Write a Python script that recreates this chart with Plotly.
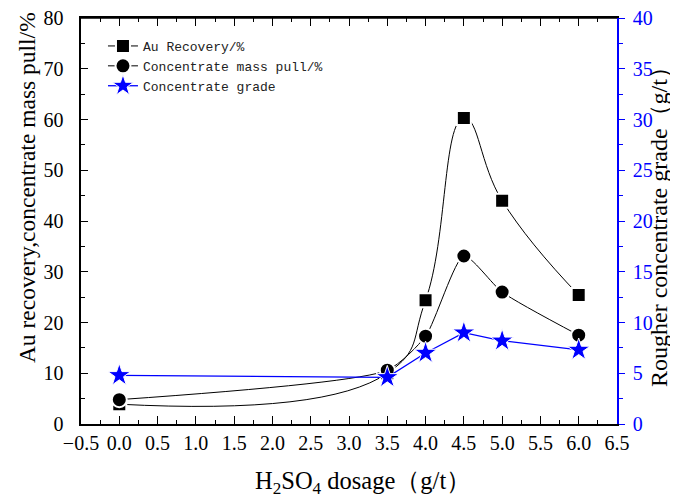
import plotly.graph_objects as go

x = [0.0, 3.5, 4.0, 4.5, 5.0, 6.0]
au_recovery = [3.9, 10.0, 24.4, 60.3, 44.0, 25.4]
mass_pull = [4.8, 10.6, 17.3, 33.1, 26.0, 17.5]
grade = [4.8, 4.6, 7.0, 9.0, 8.2, 7.3]

x_ticks = [-0.5, 0.0, 0.5, 1.0, 1.5, 2.0, 2.5, 3.0, 3.5, 4.0, 4.5, 5.0, 5.5, 6.0, 6.5]

x_title = "H<sub>2</sub>SO<sub>4</sub> dosage（g/t）"
y_title = "Au recovery,concentrate mass pull/%"
y2_title = "Rougher concentrate grade（g/t）"

serif = "Liberation Serif"
mono = "Liberation Mono"

fig = go.Figure()
fig.add_trace(go.Scatter(
    x=x, y=au_recovery, name="Au Recovery/%", mode="lines+markers",
    line=dict(color="black", width=1, shape="spline", smoothing=1.3),
    marker=dict(symbol="square", size=14, color="black", line=dict(color="white", width=2)),
))
fig.add_trace(go.Scatter(
    x=x, y=mass_pull, name="Concentrate mass pull/%", mode="lines+markers",
    line=dict(color="black", width=1, shape="spline", smoothing=0.6),
    marker=dict(symbol="circle", size=15, color="black", line=dict(color="white", width=2)),
))
fig.add_trace(go.Scatter(
    x=x, y=grade, name="Concentrate grade", mode="lines+markers", yaxis="y2",
    line=dict(color="blue", width=1.3),
    marker=dict(symbol="star", size=17, color="blue", line=dict(color="white", width=1)),
))

# page body has an 8px margin; plot area should sit at x 81..617, y 18..424 on the page
fig.update_layout(
    width=678, height=494,
    margin=dict(l=73, r=69, t=10, b=78),
    paper_bgcolor="white", plot_bgcolor="white",
    font=dict(family=serif, size=20, color="black"),
    showlegend=True,
    legend=dict(
        x=0.041, y=0.968, xanchor="left", yanchor="top",
        bgcolor="rgba(0,0,0,0)", font=dict(family=mono, size=13, color="#222"),
        tracegroupgap=0, itemwidth=30,
    ),
    xaxis=dict(
        range=[-0.5, 6.5], tickvals=x_ticks, tickformat=".1f",
        showgrid=False, zeroline=False, automargin=False,
        showline=True, linecolor="black", linewidth=1.5, mirror="ticks",
        ticks="inside", ticklen=8, tickwidth=1.2, tickcolor="black",
        minor=dict(dtick=0.25, ticks="inside", ticklen=4, tickcolor="black"),
        tickfont=dict(family=serif, size=20),
        ticklabeloverflow="allow",
    ),
    yaxis=dict(
        range=[0, 80], dtick=10, showgrid=False, zeroline=False, automargin=False,
        showline=True, linecolor="black", linewidth=1.5,
        ticks="inside", ticklen=7, tickwidth=1.2, tickcolor="black",
        minor=dict(dtick=5, ticks="inside", ticklen=4, tickcolor="black"),
        tickfont=dict(family=serif, size=20), ticksuffix="\u2002\u200a",
        ticklabeloverflow="allow",
    ),
    yaxis2=dict(
        range=[0, 40], dtick=5, overlaying="y", side="right", automargin=False,
        showgrid=False, zeroline=False,
        showline=True, linecolor="blue", linewidth=1.5,
        ticks="outside", ticklen=6, tickwidth=1.2, tickcolor="blue",
        minor=dict(dtick=2.5, ticks="outside", ticklen=4, tickcolor="blue"),
        tickfont=dict(family=serif, size=20, color="blue"), tickprefix="\u2009",
        ticklabeloverflow="allow",
    ),
    shapes=[
        dict(type="line", xref="paper", yref="paper", x0=0, x1=1, y0=1, y1=1,
             line=dict(color="black", width=1.5), layer="above"),
    ],
    annotations=[
        dict(text=y_title, xref="paper", yref="paper", x=0, y=0.581, xshift=-54,
             xanchor="center", yanchor="middle", textangle=-90, showarrow=False,
             font=dict(family=serif, size=23.5, color="black")),
        dict(text=y2_title, xref="paper", yref="paper", x=1, y=0.5, xshift=42,
             xanchor="center", yanchor="middle", textangle=-90, showarrow=False,
             font=dict(family=serif, size=24, color="black")),
        dict(text=x_title, xref="paper", yref="paper", x=0.513, y=0, yshift=-58, xshift=7,
             xanchor="center", yanchor="middle", showarrow=False,
             font=dict(family=serif, size=24.5, color="black")),
    ],
)

fig.write_html("out.html")
